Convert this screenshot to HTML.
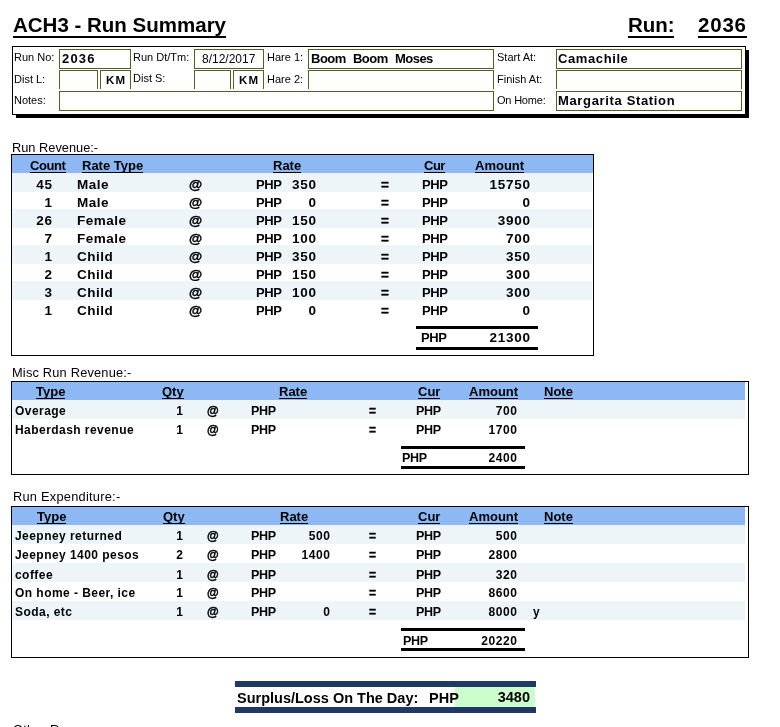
<!DOCTYPE html><html><head><meta charset="utf-8"><title>ACH3 - Run Summary</title><style>
html,body{margin:0;padding:0;background:#fff;}
body{width:780px;height:727px;position:relative;overflow:hidden;font-family:"Liberation Sans",sans-serif;color:#000;}
.a{position:absolute;white-space:nowrap;}
.t{position:absolute;white-space:nowrap;line-height:16px;height:16px;}
.b{font-weight:bold;}
.u{text-decoration:underline;}
.r{text-align:right;}
.c{text-align:center;}
.lab{font-size:11px;}
.fld{position:absolute;border:1px solid #4f6228;box-sizing:border-box;background:#fff;}
.nb{border-bottom:none;}
.fv{position:absolute;white-space:nowrap;font-weight:bold;font-size:13px;line-height:16px;}
.box{position:absolute;border:1px solid #000;box-sizing:border-box;}
.hb{position:absolute;background:#8db8f4;}
.lb{position:absolute;background:#edf5f9;}
.h{position:absolute;white-space:nowrap;font-weight:bold;font-size:13px;line-height:16px;height:14px;border-bottom:1px solid #000;}
.d{position:absolute;white-space:nowrap;font-weight:bold;font-size:13.5px;line-height:16px;letter-spacing:0.5px;}
.n{letter-spacing:0.75px;margin-left:0.75px;}
.p{font-size:13px;letter-spacing:-0.4px;}
.s2{font-size:12px;letter-spacing:0.45px;}
.s2.n{letter-spacing:0.6px;margin-left:0.6px;}
.s2.p{font-size:12.5px;letter-spacing:-0.3px;}
.k{-webkit-text-stroke:0.4px #000;}
.ln{position:absolute;background:#000;}
</style></head><body>
<div class="a b" style="left:13px;top:13px;font-size:20.5px;line-height:24px;">ACH3 - Run Summary</div>
<div class="ln" style="left:13px;top:36px;width:213px;height:2px;"></div>
<div class="a b" style="left:628px;top:13px;font-size:20.5px;line-height:24px;">Run:</div>
<div class="ln" style="left:628px;top:36px;width:46px;height:2px;"></div>
<div class="a b" style="left:698px;top:13px;font-size:20.5px;line-height:24px;letter-spacing:0.8px;">2036</div>
<div class="ln" style="left:698px;top:36px;width:49px;height:2px;"></div>
<div class="ln" style="left:16px;top:50px;width:733px;height:68px;"></div>
<div class="box" style="left:12px;top:46px;width:734px;height:69px;background:#fff;"></div>
<div class="t lab" style="left:14px;top:49px;">Run No:</div>
<div class="fld" style="left:59px;top:49px;width:72px;height:20px;"></div>
<div class="fv" style="left:62px;top:51px;letter-spacing:1.2px;">2036</div>
<div class="t lab" style="left:133px;top:49px;">Run Dt/Tm:</div>
<div class="fld" style="left:194px;top:49px;width:70px;height:20px;"></div>
<div class="fv" style="left:202px;top:51px;font-weight:normal;font-size:12px;">8/12/2017</div>
<div class="t lab" style="left:267px;top:49px;">Hare 1:</div>
<div class="fld" style="left:308px;top:49px;width:186px;height:20px;"></div>
<div class="fv" style="left:311px;top:51px;letter-spacing:-0.5px;word-spacing:4px;">Boom Boom Moses</div>
<div class="t lab" style="left:497px;top:49px;">Start At:</div>
<div class="fld" style="left:556px;top:49px;width:186px;height:20px;"></div>
<div class="fv" style="left:558px;top:51px;letter-spacing:0.6px;">Camachile</div>
<div class="t lab" style="left:14px;top:71px;">Dist L:</div>
<div class="fld nb" style="left:59px;top:70px;width:39px;height:19px;"></div>
<div class="fld nb" style="left:100px;top:70px;width:31px;height:19px;"></div>
<div class="fv" style="left:106px;top:72px;font-size:11.5px;letter-spacing:1.2px;">KM</div>
<div class="t lab" style="left:133px;top:70px;">Dist S:</div>
<div class="fld nb" style="left:194px;top:70px;width:37px;height:19px;"></div>
<div class="fld nb" style="left:233px;top:70px;width:31px;height:19px;"></div>
<div class="fv" style="left:239px;top:72px;font-size:11.5px;letter-spacing:1.2px;">KM</div>
<div class="t lab" style="left:267px;top:71px;">Hare 2:</div>
<div class="fld nb" style="left:308px;top:70px;width:186px;height:19px;"></div>
<div class="t lab" style="left:497px;top:71px;">Finish At:</div>
<div class="fld nb" style="left:556px;top:70px;width:186px;height:19px;"></div>
<div class="t lab" style="left:14px;top:92px;">Notes:</div>
<div class="fld" style="left:59px;top:91px;width:435px;height:20px;"></div>
<div class="t lab" style="left:497px;top:92px;letter-spacing:-0.2px;">On Home:</div>
<div class="fld" style="left:556px;top:91px;width:186px;height:20px;"></div>
<div class="fv" style="left:558px;top:93px;letter-spacing:0.65px;">Margarita Station</div>
<div class="t" style="left:12px;top:140px;font-size:12.8px;">Run Revenue:-</div>
<div class="box" style="left:11px;top:154px;width:583px;height:202px;"></div>
<div class="hb" style="left:12px;top:155px;width:581px;height:18px;"></div>
<div class="h" style="left:30px;top:158px;letter-spacing:-0.4px;">Count</div>
<div class="h" style="left:82px;top:158px;">Rate Type</div>
<div class="h" style="left:273px;top:158px;">Rate</div>
<div class="h" style="left:424px;top:158px;letter-spacing:-0.5px;">Cur</div>
<div class="h" style="left:475px;top:158px;">Amount</div>
<div class="lb" style="left:12px;top:173px;width:580px;height:19px;"></div>
<div class="d n" style="left:12px;top:177px;width:40px;text-align:right;">45</div>
<div class="d" style="left:77px;top:177px;">Male</div>
<div class="d k" style="left:189px;top:177px;">@</div>
<div class="d p" style="left:256px;top:177px;">PHP</div>
<div class="d n" style="left:286px;top:177px;width:30px;text-align:right;">350</div>
<div class="d k" style="left:381px;top:177px;">=</div>
<div class="d p" style="left:422px;top:177px;">PHP</div>
<div class="d n" style="left:470px;top:177px;width:60px;text-align:right;">15750</div>
<div class="d n" style="left:12px;top:195px;width:40px;text-align:right;">1</div>
<div class="d" style="left:77px;top:195px;">Male</div>
<div class="d k" style="left:189px;top:195px;">@</div>
<div class="d p" style="left:256px;top:195px;">PHP</div>
<div class="d n" style="left:286px;top:195px;width:30px;text-align:right;">0</div>
<div class="d k" style="left:381px;top:195px;">=</div>
<div class="d p" style="left:422px;top:195px;">PHP</div>
<div class="d n" style="left:470px;top:195px;width:60px;text-align:right;">0</div>
<div class="lb" style="left:12px;top:209px;width:580px;height:19px;"></div>
<div class="d n" style="left:12px;top:213px;width:40px;text-align:right;">26</div>
<div class="d" style="left:77px;top:213px;">Female</div>
<div class="d k" style="left:189px;top:213px;">@</div>
<div class="d p" style="left:256px;top:213px;">PHP</div>
<div class="d n" style="left:286px;top:213px;width:30px;text-align:right;">150</div>
<div class="d k" style="left:381px;top:213px;">=</div>
<div class="d p" style="left:422px;top:213px;">PHP</div>
<div class="d n" style="left:470px;top:213px;width:60px;text-align:right;">3900</div>
<div class="d n" style="left:12px;top:231px;width:40px;text-align:right;">7</div>
<div class="d" style="left:77px;top:231px;">Female</div>
<div class="d k" style="left:189px;top:231px;">@</div>
<div class="d p" style="left:256px;top:231px;">PHP</div>
<div class="d n" style="left:286px;top:231px;width:30px;text-align:right;">100</div>
<div class="d k" style="left:381px;top:231px;">=</div>
<div class="d p" style="left:422px;top:231px;">PHP</div>
<div class="d n" style="left:470px;top:231px;width:60px;text-align:right;">700</div>
<div class="lb" style="left:12px;top:245px;width:580px;height:19px;"></div>
<div class="d n" style="left:12px;top:249px;width:40px;text-align:right;">1</div>
<div class="d" style="left:77px;top:249px;">Child</div>
<div class="d k" style="left:189px;top:249px;">@</div>
<div class="d p" style="left:256px;top:249px;">PHP</div>
<div class="d n" style="left:286px;top:249px;width:30px;text-align:right;">350</div>
<div class="d k" style="left:381px;top:249px;">=</div>
<div class="d p" style="left:422px;top:249px;">PHP</div>
<div class="d n" style="left:470px;top:249px;width:60px;text-align:right;">350</div>
<div class="d n" style="left:12px;top:267px;width:40px;text-align:right;">2</div>
<div class="d" style="left:77px;top:267px;">Child</div>
<div class="d k" style="left:189px;top:267px;">@</div>
<div class="d p" style="left:256px;top:267px;">PHP</div>
<div class="d n" style="left:286px;top:267px;width:30px;text-align:right;">150</div>
<div class="d k" style="left:381px;top:267px;">=</div>
<div class="d p" style="left:422px;top:267px;">PHP</div>
<div class="d n" style="left:470px;top:267px;width:60px;text-align:right;">300</div>
<div class="lb" style="left:12px;top:281px;width:580px;height:19px;"></div>
<div class="d n" style="left:12px;top:285px;width:40px;text-align:right;">3</div>
<div class="d" style="left:77px;top:285px;">Child</div>
<div class="d k" style="left:189px;top:285px;">@</div>
<div class="d p" style="left:256px;top:285px;">PHP</div>
<div class="d n" style="left:286px;top:285px;width:30px;text-align:right;">100</div>
<div class="d k" style="left:381px;top:285px;">=</div>
<div class="d p" style="left:422px;top:285px;">PHP</div>
<div class="d n" style="left:470px;top:285px;width:60px;text-align:right;">300</div>
<div class="d n" style="left:12px;top:303px;width:40px;text-align:right;">1</div>
<div class="d" style="left:77px;top:303px;">Child</div>
<div class="d k" style="left:189px;top:303px;">@</div>
<div class="d p" style="left:256px;top:303px;">PHP</div>
<div class="d n" style="left:286px;top:303px;width:30px;text-align:right;">0</div>
<div class="d k" style="left:381px;top:303px;">=</div>
<div class="d p" style="left:422px;top:303px;">PHP</div>
<div class="d n" style="left:470px;top:303px;width:60px;text-align:right;">0</div>
<div class="ln" style="left:416px;top:326px;width:122px;height:3px;"></div>
<div class="d p" style="left:421px;top:330px;">PHP</div>
<div class="d n" style="left:470px;top:330px;width:60px;text-align:right;">21300</div>
<div class="ln" style="left:416px;top:347px;width:122px;height:3px;"></div>
<div class="t" style="left:12px;top:365px;font-size:12.8px;letter-spacing:0.2px;">Misc Run Revenue:-</div>
<div class="box" style="left:11px;top:381px;width:738px;height:94px;"></div>
<div class="hb" style="left:12px;top:382px;width:733px;height:18px;"></div>
<div class="h" style="left:36px;top:384px;">Type</div>
<div class="h" style="left:162px;top:384px;">Qty</div>
<div class="h" style="left:279px;top:384px;">Rate</div>
<div class="h" style="left:418px;top:384px;">Cur</div>
<div class="h" style="left:469px;top:384px;">Amount</div>
<div class="h" style="left:544px;top:384px;">Note</div>
<div class="lb" style="left:12px;top:400px;width:733px;height:19px;"></div>
<div class="d s2" style="left:15px;top:403px;">Overage</div>
<div class="d s2 n" style="left:153px;top:403px;width:30px;text-align:right;">1</div>
<div class="d s2 k" style="left:207px;top:403px;">@</div>
<div class="d s2 p" style="left:251px;top:403px;">PHP</div>
<div class="d s2 k" style="left:369px;top:403px;">=</div>
<div class="d s2 p" style="left:416px;top:403px;">PHP</div>
<div class="d s2 n" style="left:457px;top:403px;width:60px;text-align:right;">700</div>
<div class="d s2" style="left:15px;top:422px;">Haberdash revenue</div>
<div class="d s2 n" style="left:153px;top:422px;width:30px;text-align:right;">1</div>
<div class="d s2 k" style="left:207px;top:422px;">@</div>
<div class="d s2 p" style="left:251px;top:422px;">PHP</div>
<div class="d s2 k" style="left:369px;top:422px;">=</div>
<div class="d s2 p" style="left:416px;top:422px;">PHP</div>
<div class="d s2 n" style="left:457px;top:422px;width:60px;text-align:right;">1700</div>
<div class="ln" style="left:401px;top:446px;width:124px;height:3px;"></div>
<div class="d s2 p" style="left:402px;top:450px;">PHP</div>
<div class="d s2 n" style="left:457px;top:450px;width:60px;text-align:right;">2400</div>
<div class="ln" style="left:401px;top:466px;width:124px;height:3px;"></div>
<div class="t" style="left:13px;top:489px;font-size:12.8px;letter-spacing:0.25px;">Run Expenditure:-</div>
<div class="box" style="left:11px;top:506px;width:738px;height:152px;"></div>
<div class="hb" style="left:12px;top:507px;width:733px;height:18px;"></div>
<div class="h" style="left:37px;top:509px;">Type</div>
<div class="h" style="left:163px;top:509px;">Qty</div>
<div class="h" style="left:280px;top:509px;">Rate</div>
<div class="h" style="left:418px;top:509px;">Cur</div>
<div class="h" style="left:469px;top:509px;">Amount</div>
<div class="h" style="left:544px;top:509px;">Note</div>
<div class="lb" style="left:12px;top:525px;width:733px;height:19px;"></div>
<div class="d s2" style="left:15px;top:528px;">Jeepney returned</div>
<div class="d s2 n" style="left:153px;top:528px;width:30px;text-align:right;">1</div>
<div class="d s2 k" style="left:207px;top:528px;">@</div>
<div class="d s2 p" style="left:251px;top:528px;">PHP</div>
<div class="d s2 n" style="left:290px;top:528px;width:40px;text-align:right;">500</div>
<div class="d s2 k" style="left:369px;top:528px;">=</div>
<div class="d s2 p" style="left:416px;top:528px;">PHP</div>
<div class="d s2 n" style="left:457px;top:528px;width:60px;text-align:right;">500</div>
<div class="d s2" style="left:15px;top:547px;">Jeepney 1400 pesos</div>
<div class="d s2 n" style="left:153px;top:547px;width:30px;text-align:right;">2</div>
<div class="d s2 k" style="left:207px;top:547px;">@</div>
<div class="d s2 p" style="left:251px;top:547px;">PHP</div>
<div class="d s2 n" style="left:290px;top:547px;width:40px;text-align:right;">1400</div>
<div class="d s2 k" style="left:369px;top:547px;">=</div>
<div class="d s2 p" style="left:416px;top:547px;">PHP</div>
<div class="d s2 n" style="left:457px;top:547px;width:60px;text-align:right;">2800</div>
<div class="lb" style="left:12px;top:563px;width:733px;height:19px;"></div>
<div class="d s2" style="left:15px;top:567px;">coffee</div>
<div class="d s2 n" style="left:153px;top:567px;width:30px;text-align:right;">1</div>
<div class="d s2 k" style="left:207px;top:567px;">@</div>
<div class="d s2 p" style="left:251px;top:567px;">PHP</div>
<div class="d s2 k" style="left:369px;top:567px;">=</div>
<div class="d s2 p" style="left:416px;top:567px;">PHP</div>
<div class="d s2 n" style="left:457px;top:567px;width:60px;text-align:right;">320</div>
<div class="d s2" style="left:15px;top:585px;">On home - Beer, ice</div>
<div class="d s2 n" style="left:153px;top:585px;width:30px;text-align:right;">1</div>
<div class="d s2 k" style="left:207px;top:585px;">@</div>
<div class="d s2 p" style="left:251px;top:585px;">PHP</div>
<div class="d s2 k" style="left:369px;top:585px;">=</div>
<div class="d s2 p" style="left:416px;top:585px;">PHP</div>
<div class="d s2 n" style="left:457px;top:585px;width:60px;text-align:right;">8600</div>
<div class="lb" style="left:12px;top:601px;width:733px;height:19px;"></div>
<div class="d s2" style="left:15px;top:604px;">Soda, etc</div>
<div class="d s2 n" style="left:153px;top:604px;width:30px;text-align:right;">1</div>
<div class="d s2 k" style="left:207px;top:604px;">@</div>
<div class="d s2 p" style="left:251px;top:604px;">PHP</div>
<div class="d s2 n" style="left:290px;top:604px;width:40px;text-align:right;">0</div>
<div class="d s2 k" style="left:369px;top:604px;">=</div>
<div class="d s2 p" style="left:416px;top:604px;">PHP</div>
<div class="d s2 n" style="left:457px;top:604px;width:60px;text-align:right;">8000</div>
<div class="d s2" style="left:533px;top:604px;">y</div>
<div class="ln" style="left:401px;top:628px;width:124px;height:3px;"></div>
<div class="d s2 p" style="left:403px;top:633px;">PHP</div>
<div class="d s2 n" style="left:457px;top:633px;width:60px;text-align:right;">20220</div>
<div class="ln" style="left:401px;top:648px;width:124px;height:3px;"></div>
<div class="a" style="left:235px;top:681px;width:301px;height:6px;background:#1f3864;"></div>
<div class="a" style="left:235px;top:707px;width:301px;height:6px;background:#1f3864;"></div>
<div class="a" style="left:455px;top:687px;width:80px;height:20px;background:#ccfdcc;"></div>
<div class="a b" style="left:237px;top:690px;font-size:14.5px;line-height:17px;">Surplus/Loss On The Day:</div>
<div class="a b" style="left:429px;top:690px;font-size:14.5px;line-height:17px;">PHP</div>
<div class="a b r" style="left:470px;top:689px;width:60px;font-size:14.5px;line-height:17px;">3480</div>
<div class="t" style="left:13px;top:722px;font-size:12.8px;letter-spacing:0.25px;">Other Revenue:-</div>
</body></html>
